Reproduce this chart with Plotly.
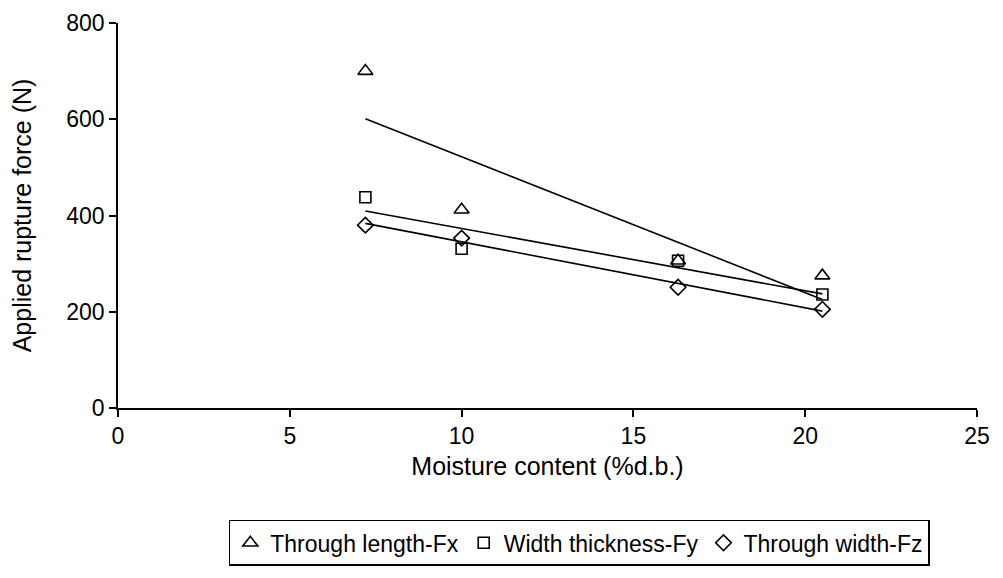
import numpy as np
import plotly.graph_objects as go

moisture = [7.2, 10.0, 16.3, 20.5]
fx = [700, 412, 306, 275]
fy = [438, 331, 306, 236]
fz = [380, 353, 251, 205]

names = ["Through length-Fx", "Width thickness-Fy", "Through width-Fz"]
symbols = ["triangle-up-open", "square-open", "diamond-open"]
sizes = [13, 11, 12]
series = [fx, fy, fz]

fig = go.Figure()
xs = np.array(moisture)
for name, sym, sz, ys in zip(names, symbols, sizes, series):
    fig.add_trace(go.Scatter(x=moisture, y=ys, mode="markers", name=name,
                             marker=dict(symbol=sym, size=sz, color="black",
                                         line=dict(width=1.6, color="black"))))
for ys in series:
    m, b = np.polyfit(xs, np.array(ys, dtype=float), 1)
    xe = [xs.min(), xs.max()]
    fig.add_trace(go.Scatter(x=xe, y=[m * v + b for v in xe], mode="lines",
                             line=dict(color="black", width=1.6),
                             showlegend=False, hoverinfo="skip"))

fam = "Liberation Sans, Arial, sans-serif"
font = dict(family=fam, size=23, color="black")
tfont = dict(family=fam, size=25, color="black")
lfont = dict(family=fam, size=23, color="black")
axis_common = dict(showline=True, linecolor="black", linewidth=1.5,
                   ticks="outside", ticklen=7, tickwidth=1.5, tickcolor="black",
                   showgrid=False, zeroline=False, automargin=False,
                   ticklabeloverflow="allow", tickfont=font)
fig.update_layout(
    width=995, height=570,
    margin=dict(l=110, r=26, t=15, b=165),
    plot_bgcolor="white", paper_bgcolor="white",
    font=font,
    xaxis=dict(range=[0, 25], tickvals=[0, 5, 10, 15, 20, 25],
               title=dict(text="Moisture content (%d.b.)", standoff=9, font=tfont),
               **axis_common),
    yaxis=dict(range=[0, 800], tickvals=[0, 200, 400, 600, 800],
               title=dict(text="Applied rupture force (N)", standoff=28, font=tfont),
               **axis_common),
    legend=dict(orientation="h", x=0.537, xanchor="center", y=-0.41, yanchor="bottom",
                bordercolor="black", borderwidth=1.5, itemwidth=30,
                font=lfont, tracegroupgap=0),
)
fig.write_html("out.html")
